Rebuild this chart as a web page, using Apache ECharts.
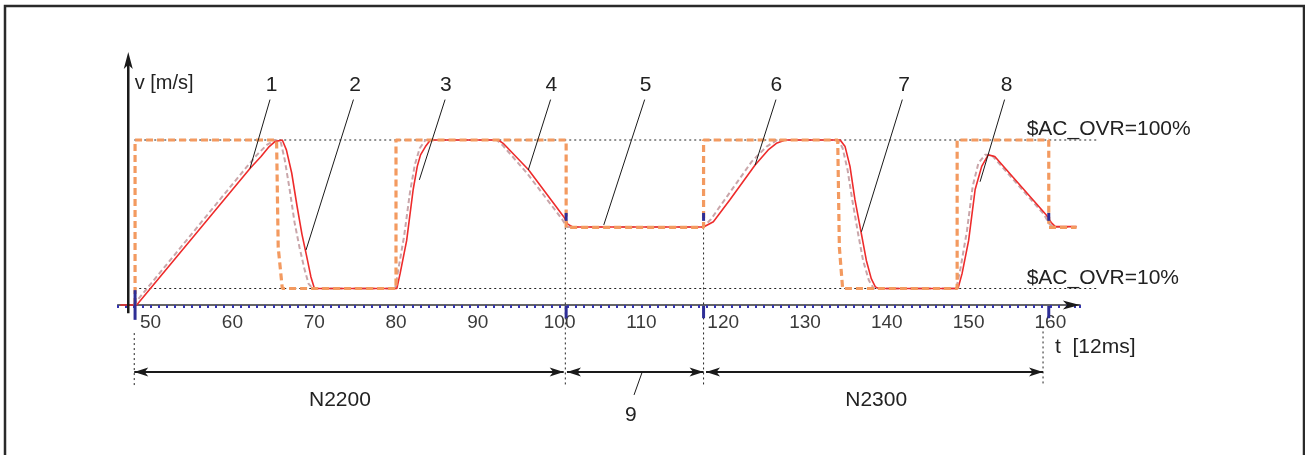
<!DOCTYPE html>
<html><head><meta charset="utf-8">
<script src="https://cdn.jsdelivr.net/npm/echarts@6/dist/echarts.min.js"></script>
<style>html,body{margin:0;padding:0;background:#fff}#c{width:1305px;height:455px}</style>
</head><body><div id="c"></div>
<script>
// ---------- data (t in 12 ms units, v in % of programmed speed) ----------
const setpoint = [[48.1,0],[48.1,100],[65.4,100],[65.6,35],[66.1,10],[80.0,10],[80.0,100],[100.8,100],[100.8,47],[117.6,47],[117.6,100],[134.0,100],[134.2,35],[134.6,10],[148.6,10],[148.6,100],[159.8,100],[159.8,47],[163.2,47]];
const actual = [[46.3,0],[48.3,0],[62.2,83],[63.5,90],[64.5,96],[65.2,99],[66.1,100],[66.6,94],[67.25,80],[67.9,60],[68.5,43],[69.1,29],[69.6,17],[70.0,10.5],[70.3,10],[80.1,10],[80.5,19],[81.3,39],[82.1,70],[82.6,84],[83.0,91],[83.6,96],[84.2,100],[92.5,100],[93.1,98],[96.2,82],[100.5,53.5],[101.0,49],[101.6,47.3],[117.6,47.3],[118.8,50.5],[120.8,63.6],[123.9,84.8],[125.5,94],[126.5,98],[127.6,100],[134.3,100],[134.9,96],[135.5,84],[136.1,64],[136.9,43],[137.5,27],[138.1,16],[138.6,11],[139.0,10],[148.7,10],[149.2,19],[150.0,39],[150.8,70],[151.6,84],[152.4,91],[153.2,90],[159.5,54.5],[160.1,50],[160.6,47.5],[163.2,47.5]];
const filtered = [[47.9,0],[61.8,84],[63.0,91],[64.2,97],[65.2,100],[65.9,99],[66.4,88],[67.0,70],[67.6,50],[68.2,35],[68.8,22],[69.3,13],[69.8,10],[79.9,10],[80.3,22],[81.0,42],[81.7,68],[82.3,85],[82.9,95],[83.6,100],[92.3,100],[93.0,97],[96.0,80],[100.3,52],[100.9,47.3],[117.6,47.3],[118.5,52],[120.5,66],[123.5,87],[125.3,96],[126.6,100],[134.1,100],[134.6,95],[135.2,82],[135.8,63],[136.5,43],[137.1,27],[137.8,15],[138.4,10],[148.5,10],[149.0,22],[149.8,45],[150.5,72],[151.2,86],[152.0,91],[152.8,91],[159.2,55],[159.9,49],[160.4,47.3],[163.2,47.3]];

const tickLabels = [50,60,70,80,90,100,110,120,130,140,150,160];
const ovrLevels = [100, 10];
const ovrLabels = ['$AC_OVR=100%', '$AC_OVR=10%'];
const ovrLabelPos = [[157.1,106.7],[157.1,16.4]];
const blockMarks = [48.1, 100.8, 117.6, 159.8];
const blockGuides = [[48.0,-17],[100.7,47],[117.6,47],[159.1,-13]];
const dimSpans = [[48.0,100.5],[100.9,117.6],[117.9,159.1]];
const dimLevel = -40.6;
const blockNames = [['N2200',73.15],['N2300',138.7]];
const calloutNums = ['1','2','3','4','5','6','7','8'];
const calloutTop = [[64.6,124.5],[74.8,124.5],[86.0,124.5],[98.9,124.5],[110.4,124.5],[126.45,124.5],[141.9,124.5],[154.4,124.5]];
const calloutEnd = [[62.15,82.8],[69.0,33.3],[82.85,75.8],[96.17,81.8],[105.4,48.5],[123.9,84.8],[136.9,44.4],[151.4,74.7]];
const calloutText = [[64.8,133.3],[75.0,133.3],[86.1,133.3],[99.0,133.3],[110.5,133.3],[126.5,133.3],[142.1,133.3],[154.65,133.3]];
const call9 = {from:[110.07,-41], to:[109.1,-54.5], text:[108.7,-66.7]};

// ---------- chart ----------
const FONT = '"Liberation Sans", Arial, Helvetica, sans-serif';
const chart = echarts.init(document.getElementById('c'), null, {renderer:'canvas'});

chart.setOption({
  animation:false,
  grid:{left:117.88, top:41, width:961.97, height:264, containLabel:false, outerBoundsMode:'none'},
  xAxis:{
    type:'value', min:46, max:163.6, interval:2,
    axisLine:{show:true, onZero:false, lineStyle:{color:'#666', width:2}},
    axisTick:{show:true, length:3, lineStyle:{color:'#3535b0', width:2}},
    minorTick:{show:true, splitNumber:2, length:3, lineStyle:{color:'#3535b0', width:2}},
    splitLine:{show:false},
    axisLabel:{margin:8, fontFamily:FONT, fontSize:19, color:'#3a3a3a',
      formatter: v => tickLabels.indexOf(Math.round(v*10)/10) >= 0 ? String(v) : ''}
  },
  yAxis:{type:'value', min:0, max:160, show:false, splitLine:{show:false}},
  series:[
    {type:'line', name:'filtered', data:filtered, showSymbol:false, clip:false,
      lineStyle:{color:'#c9a6aa', width:2, type:[5,3]}, z:2},
    {type:'line', name:'actual', data:actual, showSymbol:false, clip:false,
      lineStyle:{color:'#ee2b2b', width:1.6}, z:3},
    {type:'line', name:'setpoint', data:setpoint, showSymbol:false, clip:false,
      lineStyle:{color:'#f39a60', width:3.2, type:[7,4]}, z:4}
  ]
});

function px(p){ return chart.convertToPixel({xAxisIndex:0, yAxisIndex:0}, p); }
const g = [];
g.push({type:'rect', shape:{x:5, y:6, width:1299, height:500}, style:{fill:null, stroke:'#2a2a2a', lineWidth:2.5}, silent:true, z:1});
function line(a, b, style, z) {
  const p = px(a), q = px(b);
  g.push({type:'line', silent:true, z:z||5, shape:{x1:p[0], y1:p[1], x2:q[0], y2:q[1]}, style:Object.assign({fill:null}, style)});
}
function head(tip, from, len, half, color, z) {
  const t = px(tip), f = px(from);
  const dx = t[0]-f[0], dy = t[1]-f[1], L = Math.hypot(dx,dy);
  const ux = dx/L, uy = dy/L, nx = -uy, ny = ux;
  const bx = t[0]-ux*len, by = t[1]-uy*len;
  const mx = t[0]-ux*len*0.75, my = t[1]-uy*len*0.75;
  g.push({type:'polygon', silent:true, z:z||6, shape:{points:[[t[0],t[1]],[bx+nx*half,by+ny*half],[mx,my],[bx-nx*half,by-ny*half]]}, style:{fill:color}});
}
function txt(s, p, align, size) {
  const q = px(p);
  g.push({type:'text', x:q[0], y:q[1], silent:true, z:7,
    style:{text:s, fontFamily:FONT, fontSize:size||21, fill:'#222', align:align||'center', verticalAlign:'middle'}});
}
const dotted = {stroke:'#222', lineWidth:1, lineDash:[2,3]};
const black = {stroke:'#1a1a1a', lineWidth:1};
// reference levels
ovrLevels.forEach(l => line([48.0,l],[165.7,l],dotted,1));
// block guides
blockGuides.forEach(b => line([b[0],b[1]],[b[0],-49],dotted,1));
// dimension arrows
dimSpans.forEach(s => {
  line([s[0],dimLevel],[s[1],dimLevel],{stroke:'#1a1a1a', lineWidth:2});
  head([s[0],dimLevel],[s[1],dimLevel],14,4.5,'#1a1a1a');
  head([s[1],dimLevel],[s[0],dimLevel],14,4.5,'#1a1a1a');
});
// y axis with arrow
line([47.27,-5],[47.27,146],{stroke:'#1a1a1a', lineWidth:2.5});
head([47.27,153.3],[47.27,0],17,4.5,'#1a1a1a');
// x axis arrow head
head([163.6,0],[46,0],17,4.5,'#1a1a1a');
// block markers (blue)
const blue = {stroke:'#2e2e96', lineWidth:3};
line([blockMarks[0],9],[blockMarks[0],-9],blue,8);
blockMarks.slice(1).forEach(b => {
  line([b,-0.5],[b,-8],blue,8);
  line([b,55.8],[b,51],blue,8);
});
// callout leaders
calloutTop.forEach((p,i) => line(p, calloutEnd[i], black));
line(call9.from, call9.to, black);
// texts
txt('v [m/s]', [48.05,134], 'left', 20);
ovrLabels.forEach((s,i) => txt(s, ovrLabelPos[i], 'left', 21));
txt('t  [12ms]', [160.56,-25.5], 'left', 21);
blockNames.forEach(b => txt(b[0], [b[1],-57.6], 'center', 21));
calloutNums.forEach((s,i) => txt(s, calloutText[i], 'center', 21));
txt('9', call9.text, 'center', 21);
chart.setOption({graphic:g});
</script>
</body></html>
